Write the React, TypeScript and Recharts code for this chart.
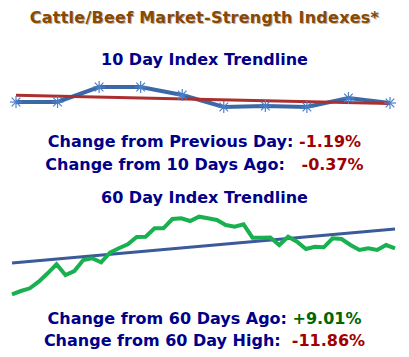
import React from "react";
import { Line, LineChart, XAxis, YAxis } from "recharts";

const tenDayDays = ["1", "2", "3", "4", "5", "6", "7", "8", "9", "10"];
const tenDayIndex = [18, 18, 33, 33, 25, 13, 14, 13, 22, 17];
const tenDayTrendEnds = [24.7, 16.5];

const sixtyDayIndex = [
  5.7, 9, 11.7, 18.3, 26.7, 35.7, 25, 29, 40, 41.7, 37.7, 47.3, 51.7, 55.7, 63, 63.3, 71.7, 71.7, 81, 81.7, 79, 83.3,
  81.7, 80, 75, 73.3, 75.7, 62.3, 62.3, 62.5, 55, 63.3, 58.3, 51, 53.3, 52.7, 61.7, 61, 55, 50, 51.7, 50, 55, 51.7,
];
const sixtyDayTrendEnds = [37, 71];

const tenDayData = tenDayDays.map((day, i) => ({
  day,
  index: tenDayIndex[i],
  trend: i === 0 ? tenDayTrendEnds[0] : i === tenDayIndex.length - 1 ? tenDayTrendEnds[1] : null,
}));

const sixtyDayData = sixtyDayIndex.map((v, i) => ({
  day: String(i + 1),
  index: v,
  trend: i === 0 ? sixtyDayTrendEnds[0] : i === sixtyDayIndex.length - 1 ? sixtyDayTrendEnds[1] : null,
}));

const navy = "#000088";
const font = "'DejaVu Sans', Verdana, sans-serif";

function StarDot(props: any) {
  const { cx, cy } = props;
  if (cx == null || cy == null) return null;
  const r = 6;
  const d = 4.3;
  return (
    <g stroke="#4a80c8" strokeWidth={1.2}>
      <line x1={cx} y1={cy - r} x2={cx} y2={cy + r} />
      <line x1={cx - r} y1={cy} x2={cx + r} y2={cy} />
      <line x1={cx - d} y1={cy - d} x2={cx + d} y2={cy + d} />
      <line x1={cx - d} y1={cy + d} x2={cx + d} y2={cy - d} />
    </g>
  );
}

function Heading({ top, text }: { top: number; text: string }) {
  return (
    <div style={{ position: "absolute", top, left: 0, width: 409, textAlign: "center", color: navy, fontSize: 16, fontWeight: "bold" }}>
      {text}
    </div>
  );
}

function Stat({ top, label, value, color }: { top: number; label: string; value: string; color: string }) {
  return (
    <div style={{ position: "absolute", top, left: 0, width: 409, textAlign: "center", fontSize: 16, fontWeight: "bold", whiteSpace: "pre" }}>
      <span style={{ color: navy }}>{label}</span>
      <span style={{ color }}>{value}</span>
    </div>
  );
}

export default function App() {
  return (
    <div style={{ position: "absolute", top: 0, left: 0, width: 409, height: 357, background: "#fff", fontFamily: font, overflow: "hidden" }}>
      <div
        style={{
          position: "absolute",
          top: 8,
          left: 0,
          width: 409,
          textAlign: "center",
          color: "#8a4800",
          fontSize: 16,
          fontWeight: "bold",
          letterSpacing: 0.25,
          textShadow: "1px 1px 0 rgba(60,30,0,0.35)",
        }}
      >
        Cattle/Beef Market-Strength Indexes*
      </div>
      <Heading top={50} text="10 Day Index Trendline" />
      <div style={{ position: "absolute", top: 70, left: 0 }}>
        <LineChart width={409} height={60} data={tenDayData} margin={{ top: 10, right: 19, bottom: 10, left: 16 }}>
          <XAxis dataKey="day" hide />
          <YAxis hide domain={[0, 40]} />
          <Line
            dataKey="index"
            stroke="#3d68a8"
            strokeWidth={4}
            dot={<StarDot />}
            activeDot={false}
            isAnimationActive={false}
          />
          <Line dataKey="trend" stroke="#aa3030" strokeWidth={3} dot={false} connectNulls isAnimationActive={false} />
        </LineChart>
      </div>
      <Stat top={132} label="Change from Previous Day: " value="-1.19%" color="#a00000" />
      <Stat top={155} label="Change from 10 Days Ago:   " value="-0.37%" color="#a00000" />
      <Heading top={188} text="60 Day Index Trendline" />
      <div style={{ position: "absolute", top: 190, left: 0 }}>
        <LineChart width={409} height={120} data={sixtyDayData} margin={{ top: 10, right: 14, bottom: 10, left: 12 }}>
          <XAxis dataKey="day" hide />
          <YAxis hide domain={[0, 100]} />
          <Line dataKey="trend" stroke="#3b5a9a" strokeWidth={3} dot={false} connectNulls isAnimationActive={false} />
          <Line dataKey="index" stroke="#19b050" strokeWidth={4} dot={false} isAnimationActive={false} />
        </LineChart>
      </div>
      <Stat top={309} label="Change from 60 Days Ago: " value="+9.01%" color="#006600" />
      <Stat top={331} label="Change from 60 Day High:  " value="-11.86%" color="#a00000" />
    </div>
  );
}
